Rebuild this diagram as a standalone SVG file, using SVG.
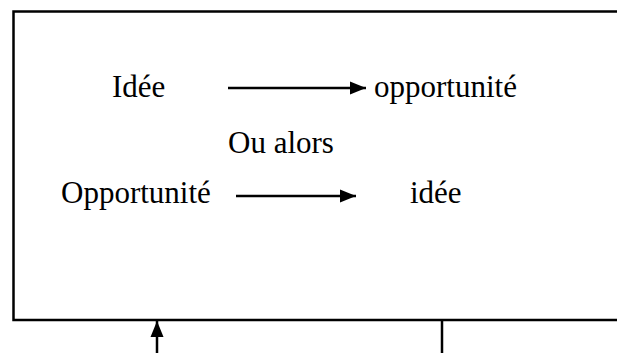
<svg xmlns="http://www.w3.org/2000/svg" width="617" height="353" viewBox="0 0 617 353">
<style>
.t{font-family:"Liberation Serif","Times New Roman",serif;font-size:31px;fill:#000}
.ln{stroke:#000;stroke-width:2.5;fill:none}
</style>
<defs>
<marker id="ah" markerUnits="userSpaceOnUse" markerWidth="16" markerHeight="14" refX="16" refY="7" orient="auto">
<path d="M0,0.5 L16,7 L0,13.5 Z" fill="#000"/>
</marker>
</defs>
<rect width="617" height="353" fill="#fff"/>
<g id="frame">
<path class="ln" d="M620,11.5 H13.5 V320 H620"/>
</g>
<g id="n-idee"><text class="t" x="112" y="97">Idée</text></g>
<g id="n-opportunite"><text class="t" x="374" y="97">opportunité</text></g>
<g id="n-oualors"><text class="t" x="228" y="153">Ou alors</text></g>
<g id="n-opportunite2"><text class="t" x="61" y="203">Opportunité</text></g>
<g id="n-idee2"><text class="t" x="410" y="203">idée</text></g>
<g id="connectors">
<line class="ln" x1="228" y1="88" x2="366" y2="88" marker-end="url(#ah)"/>
<line class="ln" x1="236" y1="196" x2="356" y2="196" marker-end="url(#ah)"/>
<line class="ln" x1="157" y1="353" x2="157" y2="321" marker-end="url(#ah)"/>
<line class="ln" x1="442" y1="320" x2="442" y2="353"/>
</g>
</svg>
